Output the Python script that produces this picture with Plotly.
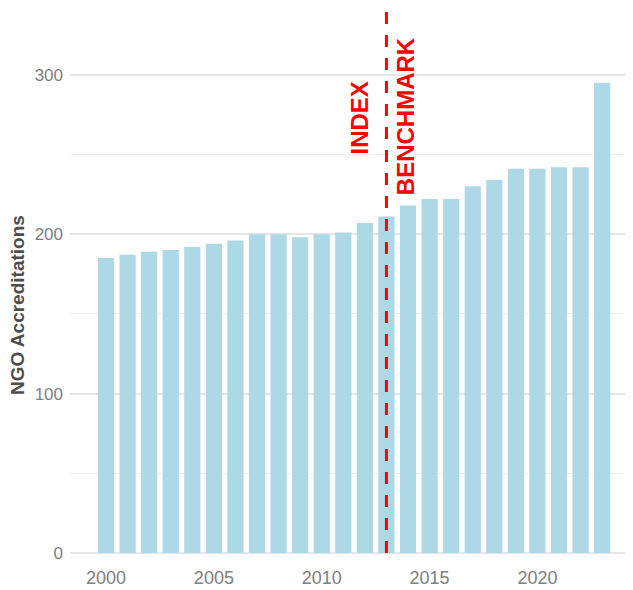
import plotly.graph_objects as go

years = list(range(2000, 2024))
accreditations = [185, 187, 189, 190, 192, 194, 196, 200, 200, 198, 200, 201,
                  207, 211, 218, 222, 222, 230, 234, 241, 241, 242, 242, 295]
y_ticks = [0, 100, 200, 300]
x_ticks = [2000, 2005, 2010, 2015, 2020]
benchmark_year = 2013
labels = ["INDEX", "BENCHMARK"]

# the page body has an 8px default margin, so the figure is 8px smaller
W, H = 625, 582
ML, MR, MT, MB = 62, 0, 0, 30

fig = go.Figure()
fig.add_trace(go.Bar(x=years, y=accreditations, width=0.75,
                     marker=dict(color="#ADD8E6", line=dict(width=0)),
                     hoverinfo="x+y"))

fig.add_shape(type="line", xref="x", yref="y",
              x0=benchmark_year, x1=benchmark_year, y0=0, y1=340,
              line=dict(color="#FF0000", width=3, dash="12px,11px"))

fig.add_annotation(x=benchmark_year - 1.24, y=273, xref="x", yref="y",
                   text="<b>" + labels[0] + "</b>", textangle=-90, showarrow=False,
                   font=dict(family="Liberation Sans", size=24, color="#FF0000"),
                   xanchor="center", yanchor="middle")
fig.add_annotation(x=benchmark_year + 0.86, y=274, xref="x", yref="y",
                   text="<b>" + labels[1] + "</b>", textangle=-90, showarrow=False,
                   font=dict(family="Liberation Sans", size=24, color="#FF0000"),
                   xanchor="center", yanchor="middle")

pw = W - ML - MR
ph = H - MT - MB
fig.add_annotation(x=(9 - ML) / pw, y=(H - MB - 297) / ph, xref="paper", yref="paper",
                   text="<b>NGO Accreditations</b>", textangle=-90, showarrow=False,
                   font=dict(family="Liberation Sans", size=19, color="#4D4D4D"),
                   xanchor="center", yanchor="middle")

fig.update_layout(
    width=W, height=H,
    margin=dict(l=ML, r=MR, t=MT, b=MB, pad=0),
    plot_bgcolor="white", paper_bgcolor="white",
    showlegend=False,
    font=dict(family="Liberation Sans"),
)
fig.update_xaxes(range=[1998.33, 2024.43], tickvals=x_ticks,
                 ticktext=[str(v) for v in x_ticks],
                 showgrid=False, zeroline=False, showline=False,
                 ticks="", ticklabelstandoff=5,
                 tickfont=dict(family="Liberation Sans", size=18, color="#808080"))
fig.update_yaxes(range=[-4.39, 341.85], tickvals=y_ticks,
                 ticktext=[str(v) for v in y_ticks],
                 showgrid=True, gridcolor="#E6E6E6", gridwidth=1.5,
                 minor=dict(tickvals=[50, 150, 250], showgrid=True,
                            gridcolor="#F0F0F0", gridwidth=1),
                 zeroline=False, showline=False, ticks="", ticklabelstandoff=6,
                 tickfont=dict(family="Liberation Sans", size=17, color="#808080"))

fig.write_html("out.html")
